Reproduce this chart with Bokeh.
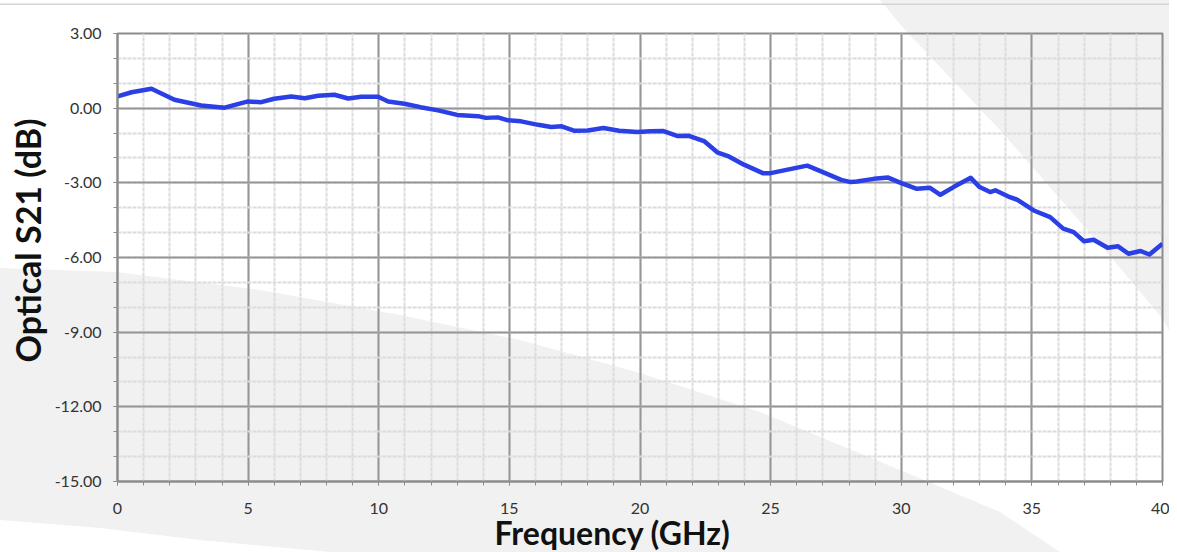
import urllib.parse
from bokeh.plotting import figure
from bokeh.models import SingleIntervalTicker, PrintfTickFormatter, Range1d, Title
from bokeh.embed import file_html
from bokeh.resources import INLINE

# ---- data ----
freq_ghz = [0, 0.54, 1.3, 2.18, 3.2, 4.1, 5.0, 5.5, 6.0, 6.65, 7.17, 7.68, 8.3, 8.83, 9.33, 9.98,
            10.36, 10.98, 11.6, 12.27, 13.0, 13.8, 14.1, 14.56, 14.95, 15.45, 16.1, 16.6, 17.0, 17.5,
            18.0, 18.6, 19.2, 19.9, 20.4, 20.9, 21.45, 21.87, 22.45, 22.98, 23.4, 23.98, 24.7, 25.0,
            25.65, 26.4, 27.0, 27.7, 28.07, 28.3, 28.95, 29.5, 30.0, 30.6, 31.1, 31.5, 32.0, 32.66,
            33.0, 33.4, 33.6, 34.1, 34.45, 35.07, 35.7, 36.2, 36.6, 37.0, 37.36, 37.9, 38.3, 38.7,
            39.16, 39.5, 40.0]
s21_db = [0.47, 0.64, 0.78, 0.34, 0.11, 0.02, 0.27, 0.24, 0.38, 0.47, 0.40, 0.50, 0.54, 0.39, 0.46, 0.46,
          0.27, 0.18, 0.04, -0.09, -0.27, -0.32, -0.39, -0.37, -0.49, -0.53, -0.67, -0.76, -0.73, -0.91,
          -0.90, -0.80, -0.91, -0.96, -0.93, -0.92, -1.12, -1.11, -1.32, -1.79, -1.94, -2.27, -2.61, -2.61,
          -2.47, -2.31, -2.57, -2.88, -2.97, -2.95, -2.84, -2.79, -3.01, -3.24, -3.20, -3.48, -3.17, -2.80,
          -3.17, -3.37, -3.30, -3.55, -3.68, -4.11, -4.38, -4.84, -4.98, -5.35, -5.29, -5.61, -5.55, -5.85,
          -5.74, -5.88, -5.45]

x_title = "Frequency (GHz)"
y_title = "Optical S21 (dB)"

FONT = "Lato"
W, H = 1169, 552

p = figure(width=W, height=H, output_backend="svg", toolbar_location=None,
           x_range=Range1d(0, 40), y_range=Range1d(-15, 3),
           min_border_left=116, min_border_right=7, min_border_top=33, min_border_bottom=71)
p.background_fill_color = None
p.border_fill_color = None
p.outline_line_color = "#8c8c8c"
p.outline_line_width = 2

# decorative page background shapes (pixel coordinates of the canvas)
lower_left = [(0, 268), (116, 272), (260, 290), (400, 315), (520, 340), (640, 373), (760, 412),
              (900, 470), (1000, 512), (1060, 552), (330, 552), (200, 540), (100, 528), (0, 520)]
upper_right = [(880, 0), (1177, 0), (1177, 345), (1162, 318), (1110, 256), (1000, 130), (905, 30)]
shapes = ""
for poly in (lower_left, upper_right):
    pts = " ".join(f"{a},{b}" for a, b in poly)
    shapes += f"<polygon points='{pts}' fill='#f1f1f1'/>"
shapes += f"<rect x='0' y='3.5' width='{W}' height='1.5' fill='#d4d4d4'/>"
svg = (f"<svg xmlns='http://www.w3.org/2000/svg' width='{W}' height='{H}' "
       f"viewBox='0 0 {W} {H}'><rect width='{W}' height='{H}' fill='white'/>{shapes}</svg>")
uri = "data:image/svg+xml," + urllib.parse.quote(svg)
p.styles = {"background-image": f'url("{uri}")', "background-repeat": "no-repeat",
            "background-size": f"{W}px {H}px"}

p.xaxis.ticker = SingleIntervalTicker(interval=5, num_minor_ticks=5)
p.yaxis.ticker = SingleIntervalTicker(interval=3, num_minor_ticks=3)
p.yaxis.formatter = PrintfTickFormatter(format="%.2f")

for ax in (p.xaxis, p.yaxis):
    ax.axis_line_color = "#8c8c8c"
    ax.axis_line_width = 2
    ax.major_tick_line_color = "#8c8c8c"
    ax.minor_tick_line_color = "#8c8c8c"
    ax.major_tick_out = 4
    ax.major_tick_in = 0
    ax.minor_tick_out = 4
    ax.minor_tick_in = 0
    ax.major_label_text_font = FONT
    ax.major_label_text_font_size = "16px"
    ax.major_label_text_color = "#333333"

p.xaxis.major_label_standoff = 17
p.yaxis.major_label_standoff = 12

# axis titles (placed off-centre as in the reference)
xt = Title(text=x_title, align="left", offset=377, standoff=-11,
           text_font=FONT, text_font_style="bold", text_font_size="32px", text_color="#111111")
yt = Title(text=y_title, align="left", offset=119, standoff=8,
           text_font=FONT, text_font_style="bold", text_font_size="34px", text_color="#111111")
p.add_layout(xt, "below")
p.add_layout(yt, "left")

p.grid.grid_line_color = "#969696"
p.grid.grid_line_width = 2
p.grid.minor_grid_line_color = "#dcdcdc"
p.grid.minor_grid_line_width = 2
p.grid.minor_grid_line_dash = "4 1"

p.line(freq_ghz, s21_db, line_color="#2b3fe6", line_width=4.5, line_join="round")

open("out.html", "w").write(file_html(p, INLINE))
